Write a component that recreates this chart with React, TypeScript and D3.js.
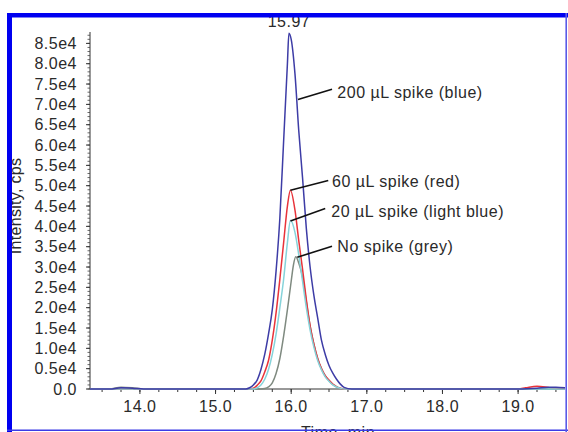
import * as d3 from "d3";

// retention time (min) / intensity (cps)
const blueTimes = [13.34, 13.6, 13.75, 13.9, 14.05, 14.5, 15.0, 15.4, 15.45, 15.5, 15.55, 15.6, 15.65, 15.7, 15.75, 15.8, 15.85, 15.9, 15.95, 15.97, 16.0, 16.05, 16.1, 16.15, 16.2, 16.25, 16.3, 16.35, 16.4, 16.45, 16.5, 16.55, 16.6, 16.65, 16.7, 16.8, 17.0, 18.0, 19.0, 19.25, 19.4, 19.5, 19.62];
const blueValues = [0, 0, 300, 200, 0, 0, 0, 0, 300, 1000, 2200, 4800, 8500, 13500, 19500, 29000, 42000, 61000, 80000, 87500, 86000, 77500, 63500, 52000, 39500, 30000, 23000, 17500, 12000, 8500, 5800, 3900, 2400, 1200, 400, 0, 0, 0, 0, 200, 450, 400, 300];

const redTimes = [13.34, 14.0, 15.0, 15.45, 15.5, 15.55, 15.6, 15.65, 15.7, 15.75, 15.8, 15.85, 15.9, 15.95, 15.99, 16.05, 16.1, 16.15, 16.2, 16.25, 16.3, 16.35, 16.4, 16.45, 16.5, 16.55, 16.6, 16.65, 16.7, 17.0, 18.0, 19.0, 19.1, 19.25, 19.4, 19.5, 19.62];
const redValues = [0, 0, 0, 0, 200, 900, 2000, 4200, 7000, 12000, 18700, 27000, 36000, 45000, 48900, 44000, 36500, 29500, 22000, 15500, 11000, 7500, 5000, 3300, 2200, 1200, 600, 200, 0, 0, 0, 0, 300, 700, 400, 150, 100];

const lightTimes = [13.34, 14.0, 15.0, 15.5, 15.55, 15.6, 15.65, 15.7, 15.75, 15.8, 15.85, 15.9, 15.95, 15.99, 16.05, 16.1, 16.15, 16.2, 16.25, 16.3, 16.35, 16.4, 16.45, 16.5, 16.55, 16.6, 16.65, 16.7, 17.0, 18.0, 19.0, 19.62];
const lightValues = [0, 0, 0, 0, 300, 1000, 2400, 4800, 8500, 13500, 20000, 27000, 36000, 41500, 38500, 33000, 26500, 20000, 14500, 10300, 7000, 4700, 3000, 1900, 1000, 500, 150, 0, 0, 0, 0, 0];

const greyTimes = [13.34, 13.6, 13.75, 13.9, 14.05, 15.0, 15.6, 15.65, 15.7, 15.75, 15.8, 15.85, 15.9, 15.95, 16.0, 16.03, 16.06, 16.1, 16.15, 16.2, 16.25, 16.3, 16.35, 16.4, 16.45, 16.5, 16.55, 16.6, 16.65, 16.7, 17.0, 18.0, 19.0, 19.62];
const greyValues = [0, 0, 450, 300, 0, 0, 0, 100, 500, 1500, 3800, 7500, 13000, 19500, 26500, 30500, 32500, 31000, 27500, 21500, 15500, 11000, 7500, 5000, 3200, 2000, 1100, 500, 150, 0, 0, 0, 0, 0];

const xTicks = [14, 15, 16, 17, 18, 19];
const yTicks = d3.range(0, 85001, 5000);

const annotations = [
    {text: "200 \u00b5L spike (blue)", pt: [16.09, 71200], end: [16.54, 73700], label: [16.61, 72900]},
    {text: "60 \u00b5L spike (red)", pt: [15.99, 48900], end: [16.49, 51300], label: [16.54, 51100]},
    {text: "20 \u00b5L spike (light blue)", pt: [15.99, 41300], end: [16.45, 44400], label: [16.53, 43700]},
    {text: "No spike (grey)", pt: [16.08, 32400], end: [16.54, 35100], label: [16.61, 35100]},
];

const font = "'Liberation Sans', Arial, Helvetica, sans-serif";
const textColor = "#2a2a2a";

export default function App() {
    const width = 568;
    const height = 432;

    const x = d3.scaleLinear([13.34, 19.62], [90, 565]);
    const y = d3.scaleLinear([0, 87800], [389, 32]);

    const line = d3.line<[number, number]>()
        .x(d => x(d[0]))
        .y(d => y(d[1]))
        .curve(d3.curveMonotoneX);

    const series = [
        {times: greyTimes, values: greyValues, color: "#7f8a80"},
        {times: redTimes, values: redValues, color: "#e8333a"},
        {times: lightTimes, values: lightValues, color: "#86d3da"},
        {times: blueTimes, values: blueValues, color: "#3d3ca6"},
    ];

    const minorY = d3.range(0, 87001, 1000);
    const minorX = d3.range(13.5, 19.61, 0.25);

    return <svg width={width} height={height} viewBox={`0 0 ${width} ${height}`}
                style={{position: "absolute", left: 0, top: 0, background: "#fff"}}>
        <rect x={0} y={0} width={width} height={height} fill="#fff"/>

        {/* peak label */}
        <text x={x(15.97)} y={27} textAnchor="middle" fontFamily={font} fontSize={16}
              letterSpacing={0.5} fill={textColor}>15.97</text>

        {/* y axis */}
        <line x1={x.range()[0]} x2={x.range()[0]} y1={y(0)} y2={y(87800)} stroke="#333" strokeWidth={1}/>
        {minorY.map(v => <line key={"my" + v} x1={x.range()[0] - 2.5} x2={x.range()[0]} y1={y(v)} y2={y(v)}
                               stroke="#444" strokeWidth={0.8}/>)}
        {yTicks.map(v => <g key={"y" + v}>
            <line x1={x.range()[0] - 4} x2={x.range()[0]} y1={y(v)} y2={y(v)} stroke="#333" strokeWidth={1}/>
            <text x={77} y={y(v)} dy="0.35em" textAnchor="end" fontFamily={font} fontSize={16}
                  letterSpacing={0.5} fill={textColor}>
                {v === 0 ? "0.0" : (v / 1e4).toFixed(1) + "e4"}
            </text>
        </g>)}

        {/* x axis */}
        <line x1={x.range()[0]} x2={x.range()[1]} y1={y(0)} y2={y(0)} stroke="#333" strokeWidth={1}/>
        {minorX.map(t => <line key={"mx" + t} x1={x(t)} x2={x(t)} y1={y(0)} y2={y(0) + 3}
                               stroke="#333" strokeWidth={1}/>)}
        {xTicks.map(t => <g key={"x" + t}>
            <line x1={x(t)} x2={x(t)} y1={y(0)} y2={y(0) + 5} stroke="#333" strokeWidth={1}/>
            <text x={x(t)} y={412} textAnchor="middle" fontFamily={font} fontSize={16}
                  letterSpacing={0.5} fill={textColor}>{t.toFixed(1)}</text>
        </g>)}

        {/* traces */}
        {series.map((s, i) => <path key={i} fill="none" stroke={s.color} strokeWidth={1.5}
                                    d={line(s.times.map((t, j) => [t, s.values[j]] as [number, number])) ?? ""}/>)}

        {/* annotations */}
        {annotations.map(a => <g key={a.text}>
            <line x1={x(a.pt[0])} y1={y(a.pt[1])} x2={x(a.end[0])} y2={y(a.end[1])} stroke="#111" strokeWidth={1.6}/>
            <text x={x(a.label[0])} y={y(a.label[1])} dy="0.35em" fontFamily={font} fontSize={16}
                  letterSpacing={0.5} fill={textColor}>{a.text}</text>
        </g>)}

        {/* axis titles */}
        <text transform={`translate(21,${206}) rotate(-90)`} textAnchor="middle" fontFamily={font} fontSize={16}
              letterSpacing={0.3} fill={textColor}>Intensity, cps</text>
        <text x={338} y={438} textAnchor="middle" fontFamily={font} fontSize={16}
              letterSpacing={0.5} fill={textColor}>Time, min</text>

        {/* blue frame */}
        <rect x={7} y={13} width={561} height={4.5} fill="#0000f0"/>
        <rect x={7} y={13} width={5} height={419} fill="#0000f0"/>
        <line x1={7} x2={568} y1={430.2} y2={430.2} stroke="#3b3be6" strokeWidth={1.6}/>
        <line x1={566.2} x2={566.2} y1={13} y2={432} stroke="#5a5ae6" strokeWidth={1.6}/>
    </svg>;
}
